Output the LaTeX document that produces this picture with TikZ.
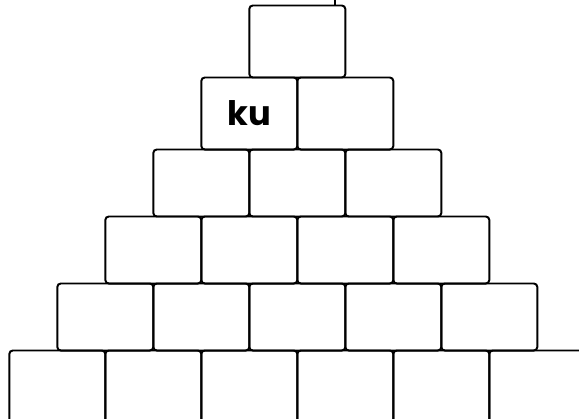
\documentclass[tikz,border=0pt]{standalone}
\usepackage{fontspec}
\newfontfamily\kufont{Poppins}
\usetikzlibrary{positioning}

\begin{document}
\begin{tikzpicture}[
    x=0.025cm, y=-0.025cm,
    brick/.style={draw=black, line width=1.4pt, rounded corners=2.5pt, minimum width=2.4cm, inner sep=0pt, outer sep=0pt, anchor=north west},
    syllable/.style={font=\kufont\bfseries\fontsize{24}{28}\selectfont, inner sep=0pt}
]
    \useasboundingbox (0,0) rectangle (579,419);
    \clip (0,0) rectangle (579,419);

    % Rows of bricks: row / top edge / brick height
    \foreach \r/\ytop/\bh in {1/5.5/1.8, 2/77.5/1.8, 3/149.5/1.675, 4/216.5/1.675, 5/283.5/1.675, 6/350.5/1.8}{
        \foreach \c in {1,...,\r}{
            \node[brick, minimum height=\bh cm] (b\r\c) at ({249.3-48*(\r-1)+96*(\c-1)}, \ytop) {};
        }
    }

    \node[syllable] (ku) at (b21) {ku};

    % Short stub above the top brick
    \coordinate (stub) at (335,0);
    \draw[line width=0.8pt] (stub) -- (stub |- b11.north);
\end{tikzpicture}
\end{document}
